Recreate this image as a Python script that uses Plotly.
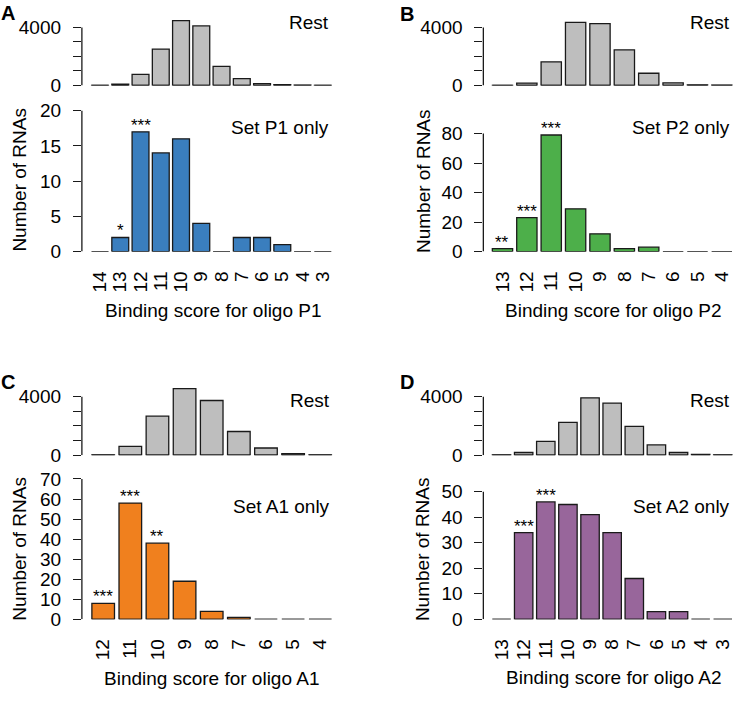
import plotly.graph_objects as go

# ---------------- data ----------------
a_cats = ["14", "13", "12", "11", "10", "9", "8", "7", "6", "5", "4", "3"]
a_rest = [10, 80, 770, 2510, 4475, 4110, 1310, 475, 130, 60, 20, 10]
a_set = [0, 2, 17, 14, 16, 4, 0, 2, 2, 1, 0, 0]
a_stars = {"13": "*", "12": "***"}

b_cats = ["13", "12", "11", "10", "9", "8", "7", "6", "5", "4"]
b_rest = [10, 160, 1630, 4360, 4270, 2460, 840, 180, 40, 20]
b_set = [2, 23, 79, 29, 12, 2, 3, 0, 0, 0]
b_stars = {"13": "**", "12": "***", "11": "***"}

c_cats = ["12", "11", "10", "9", "8", "7", "6", "5", "4"]
c_rest = [20, 607, 2670, 4560, 3750, 1620, 490, 100, 20]
c_set = [8, 58, 38, 19, 4, 1, 0, 0, 0]
c_stars = {"12": "***", "11": "***", "10": "**"}

d_cats = ["13", "12", "11", "10", "9", "8", "7", "6", "5", "4", "3"]
d_rest = [20, 180, 944, 2250, 3930, 3570, 1980, 700, 180, 50, 20]
d_set = [0, 34, 46, 45, 41, 34, 16, 3, 3, 0, 0]
d_stars = {"12": "***", "11": "***"}

rest_ticks = [0, 1000, 2000, 3000, 4000]
rest_ticktext = ["0", "", "", "", "4000"]

# ---------------- layout geometry ----------------
W, H = 737, 701
FONT = "Liberation Sans, Arial, sans-serif"
FS = 19
BORDER = "#1a1a1a"
LW = 1.3
H_BAR = 0.5 / 1.2  # half bar width in slot units (R barplot space = 0.2)


def px(x):
    return x / W


def py(y):
    return 1 - y / H


panels = [
    dict(letter="A", cats=a_cats, rest=a_rest, vals=a_set, stars=a_stars, color="#3A7EBE",
         name="P1", ax=82, L=91.7, R=331.7, top0=85, top4=26,
         bot0=254.3, botT=110.7, botTick=20, step=5, ytitle=(20, 181), xtitle=(214, 314),
         rest_y=21, set_y=128, letter_xy=(8, 11)),
    dict(letter="B", cats=b_cats, rest=b_rest, vals=b_set, stars=b_stars, color="#4DAF4A",
         name="P2", ax=484, L=493, R=733, top0=85, top4=26,
         bot0=254.3, botT=134, botTick=80, step=20, ytitle=(424, 182), xtitle=(614, 314),
         rest_y=21, set_y=128, letter_xy=(408, 12)),
    dict(letter="C", cats=c_cats, rest=c_rest, vals=c_set, stars=c_stars, color="#F0801E",
         name="A1", ax=82, L=92, R=332, top0=461.7, top4=402.3,
         bot0=629, botT=486, botTick=70, step=10, ytitle=(20, 557), xtitle=(212, 689),
         rest_y=406, set_y=514, letter_xy=(8, 387)),
    dict(letter="D", cats=d_cats, rest=d_rest, vals=d_set, stars=d_stars, color="#98669B",
         name="A2", ax=484, L=493, R=733, top0=461.7, top4=402.3,
         bot0=629, botT=499, botTick=50, step=10, ytitle=(423, 557), xtitle=(614, 688),
         rest_y=406, set_y=514, letter_xy=(408, 387)),
]

fig = go.Figure()
layout = dict(
    width=W, height=H, margin=dict(l=0, r=0, t=0, b=0),
    paper_bgcolor="white", plot_bgcolor="white",
    showlegend=False, bargap=1 - 1 / 1.2,
    font=dict(family=FONT, size=FS, color="black"),
)
shapes = []
annotations = []

k = 0
for p in panels:
    n = len(p["cats"])
    idx = list(range(n))
    u = (n - 1 + 2 * H_BAR) / (p["R"] - p["L"])
    xr = [-H_BAR - (p["L"] - p["ax"]) * u, n - 1 + H_BAR + 1 * u]
    xdom = [px(p["ax"]), px(p["R"] + 1)]

    for part in ("top", "bot"):
        k += 1
        xa = "xaxis" if k == 1 else f"xaxis{k}"
        ya = "yaxis" if k == 1 else f"yaxis{k}"
        xr_id = "x" if k == 1 else f"x{k}"
        yr_id = "y" if k == 1 else f"y{k}"
        if part == "top":
            vals = p["rest"]
            color = "#BEBEBE"
            zero, tpx, tval = p["top0"], p["top4"], 4000
            ytop_px = zero - 72
            tickvals, ticktext = rest_ticks, rest_ticktext
        else:
            vals = p["vals"]
            color = p["color"]
            zero, tpx, tval = p["bot0"], p["botT"], p["botTick"]
            ytop_px = tpx - 8
            tickvals = list(range(0, tval + 1, p["step"]))
            ticktext = [str(t) for t in tickvals]
        yrange = [0, (zero - ytop_px) / (zero - tpx) * tval]
        ydom = [py(zero), py(ytop_px)]

        fig.add_trace(go.Bar(
            x=idx, y=vals, xaxis=xr_id, yaxis=yr_id,
            customdata=p["cats"],
            hovertemplate="score %{customdata}: %{y}<extra></extra>",
            marker=dict(color=color, line=dict(color=BORDER, width=LW)),
        ))

        layout[xa] = dict(
            domain=xdom, anchor=yr_id, range=xr,
            showgrid=False, zeroline=False, showline=False, ticks="",
            tickmode="array", tickvals=idx, ticktext=p["cats"],
            showticklabels=(part == "bot"), tickangle=-90,
            ticklabelstandoff=15,
            tickfont=dict(family=FONT, size=FS, color="black"),
        )
        layout[ya] = dict(
            domain=ydom, anchor=xr_id, range=yrange,
            showgrid=False, zeroline=False, showline=False,
            ticks="outside", ticklen=8, tickwidth=LW, tickcolor=BORDER,
            tickmode="array", tickvals=tickvals, ticktext=ticktext,
            ticklabelstandoff=8,
            tickfont=dict(family=FONT, size=FS, color="black"),
        )
        # R-style axis line spanning only from 0 to the last tick
        shapes.append(dict(type="line", xref=f"{xr_id} domain", yref=yr_id,
                           x0=0, x1=0, y0=0, y1=tval,
                           line=dict(color=BORDER, width=LW)))
        # baseline segment under each bar (zero-height bars show as a line in R)
        for j in idx:
            shapes.append(dict(type="line", xref=xr_id, yref=yr_id,
                               x0=j - H_BAR, x1=j + H_BAR, y0=0, y1=0,
                               line=dict(color=BORDER, width=LW)))

        if part == "top":
            annotations.append(dict(text="Rest", xref="paper", yref="paper",
                                    x=px(p["R"]), y=py(p["rest_y"]),
                                    xanchor="right", yanchor="middle", showarrow=False,
                                    font=dict(family=FONT, size=FS)))
        else:
            annotations.append(dict(text=f"Set {p['name']} only", xref="paper", yref="paper",
                                    x=px(p["R"]), y=py(p["set_y"]),
                                    xanchor="right", yanchor="middle", showarrow=False,
                                    font=dict(family=FONT, size=FS)))
            for cat, s in p["stars"].items():
                j = p["cats"].index(cat)
                annotations.append(dict(text=s, xref=xr_id, yref=yr_id,
                                        x=j, y=vals[j],
                                        xanchor="center", yanchor="bottom", yshift=-5,
                                        showarrow=False,
                                        font=dict(family=FONT, size=17)))

    # axis titles, panel letters
    annotations.append(dict(text="Number of RNAs", xref="paper", yref="paper",
                            x=px(p["ytitle"][0]), y=py(p["ytitle"][1]), textangle=-90,
                            xanchor="center", yanchor="middle", showarrow=False,
                            font=dict(family=FONT, size=FS)))
    annotations.append(dict(text=f"Binding score for oligo {p['name']}", xref="paper", yref="paper",
                            x=px(p["xtitle"][0]), y=py(p["xtitle"][1]),
                            xanchor="center", yanchor="middle", showarrow=False,
                            font=dict(family=FONT, size=FS)))
    annotations.append(dict(text=f"<b>{p['letter']}</b>", xref="paper", yref="paper",
                            x=px(p["letter_xy"][0]), y=py(p["letter_xy"][1]),
                            xanchor="center", yanchor="middle", showarrow=False,
                            font=dict(family=FONT, size=20)))

layout["shapes"] = shapes
layout["annotations"] = annotations
fig.update_layout(**layout)
fig.write_html("out.html",
               config={"displayModeBar": False},
               post_script="document.body.style.margin='0px';document.body.style.overflow='hidden';")
